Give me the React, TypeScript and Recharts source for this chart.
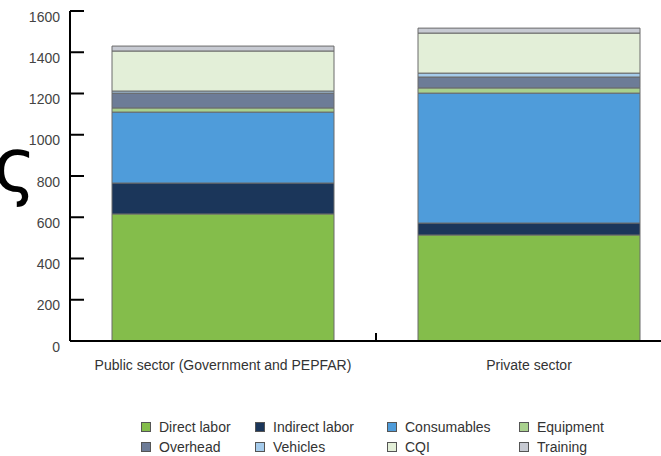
import React from "react";
import { Bar, BarChart, XAxis, YAxis } from "recharts";

const categories = ["Public sector (Government and PEPFAR)", "Private sector"];

const seriesNames = [
  "Direct labor",
  "Indirect labor",
  "Consumables",
  "Equipment",
  "Overhead",
  "Vehicles",
  "CQI",
  "Training",
];

const directLabor = [616, 514];
const indirectLabor = [150, 58];
const consumables = [344, 630];
const equipment = [20, 25];
const overhead = [72, 53];
const vehicles = [10, 19];
const cqi = [194, 194];
const training = [24, 24];

const yTicks = [0, 200, 400, 600, 800, 1000, 1200, 1400, 1600];

const colors = [
  "#84bd4b",
  "#1b365a",
  "#4f9cda",
  "#a9d18e",
  "#6d7c97",
  "#a5cbeb",
  "#e3efd8",
  "#c7cad2",
];

const seriesValues = [
  directLabor,
  indirectLabor,
  consumables,
  equipment,
  overhead,
  vehicles,
  cqi,
  training,
];

const keys = ["s0", "s1", "s2", "s3", "s4", "s5", "s6", "s7"];

const data = categories.map((name, i) => {
  const row: Record<string, string | number> = { name };
  seriesValues.forEach((vals, j) => {
    row[keys[j]] = vals[i];
  });
  return row;
});

// legend grid: 4 columns x 2 rows
const legendCols = [141, 255, 387, 519];
const legendRows = [427, 447];

const FONT = "'Liberation Sans', Arial, sans-serif";

const YTick = (props: any) => {
  const { x, y, payload } = props;
  return (
    <text
      x={x}
      y={y + 7}
      textAnchor="end"
      dominantBaseline="middle"
      fill="#444"
      fontSize={14}
      fontFamily={FONT}
    >
      {payload.value}
    </text>
  );
};

const XTick = (props: any) => {
  const { x, y, payload, index } = props;
  return (
    <g>
      <text
        x={x}
        y={y + 29}
        textAnchor="middle"
        fill="#333"
        fontSize={14}
        fontFamily={FONT}
      >
        {payload.value}
      </text>
      {index === 0 && (
        <line x1={x + 153} x2={x + 153} y1={y} y2={y - 8} stroke="#000" strokeWidth={2} />
      )}
    </g>
  );
};

export default function App() {
  return (
    <div
      style={{
        position: "fixed",
        left: 0,
        top: 0,
        width: 661,
        height: 456,
        overflow: "hidden",
        background: "#fff",
        fontFamily: FONT,
      }}
    >
      <BarChart
        width={700}
        height={456}
        data={data}
        margin={{ top: 11, right: 18, left: 0, bottom: 85 }}
        barCategoryGap={42}
      >
        <XAxis
          dataKey="name"
          height={30}
          axisLine={{ stroke: "#000", strokeWidth: 2 }}
          tickLine={false}
          tickSize={0}
          tickMargin={0}
          tick={<XTick />}
          interval={0}
        />
        <YAxis
          width={70}
          domain={[0, 1600]}
          ticks={yTicks}
          interval={0}
          axisLine={{ stroke: "#000", strokeWidth: 2 }}
          tickLine={{ stroke: "#000", strokeWidth: 2 }}
          tickSize={-14}
          tickMargin={24}
          tick={<YTick />}
        />
        {keys.map((k, i) => (
          <Bar
            key={k}
            dataKey={k}
            name={seriesNames[i]}
            stackId="a"
            fill={colors[i]}
            stroke="#6b6b6b"
            strokeWidth={1}
            isAnimationActive={false}
          />
        ))}
      </BarChart>

      <div
        style={{
          position: "absolute",
          left: -7,
          top: 128,
          fontSize: 74,
          fontFamily: "'DejaVu Sans', sans-serif",
          color: "#000",
          lineHeight: 1,
        }}
      >
        ς
      </div>

      {seriesNames.map((name, i) => {
        const col = i % 4;
        const row = Math.floor(i / 4);
        return (
          <div
            key={name}
            style={{
              position: "absolute",
              left: legendCols[col],
              top: legendRows[row] - 9,
              height: 18,
              display: "flex",
              alignItems: "center",
              whiteSpace: "nowrap",
              fontSize: 14,
              color: "#333",
            }}
          >
            <span
              style={{
                display: "inline-block",
                width: 8,
                height: 8,
                background: colors[i],
                border: "1px solid #555",
                marginRight: 8,
              }}
            />
            {name}
          </div>
        );
      })}
    </div>
  );
}
